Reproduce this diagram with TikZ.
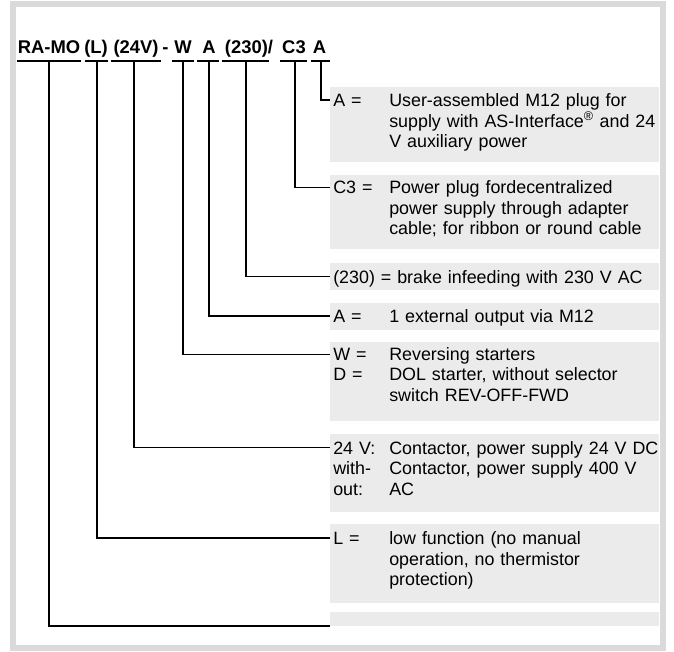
\documentclass[tikz,border=0pt]{standalone}
\usepackage{fontspec}
\setmainfont{Liberation Sans}
\usepackage{tikz}
\usetikzlibrary{fit, positioning}
\definecolor{framegray}{RGB}{218,218,218}
\definecolor{boxgray}{RGB}{235,235,235}

\begin{document}
\begin{tikzpicture}[x=0.75pt, y=-0.75pt,
    hdr/.style={font=\fontsize{13.8pt}{16pt}\selectfont\bfseries, inner sep=0pt, anchor=base},
    lbl/.style={font=\fontsize{13.4pt}{15.45pt}\selectfont, inner sep=0pt, anchor=base west, align=left, text width=40pt},
    desc/.style={lbl, text width=202pt},
    descbox/.style={fill=boxgray, inner sep=0pt},
    link/.style={line width=0.8pt}]

    \useasboundingbox (0,0) rectangle (674,652);

    % =================================================================
    % 1. OUTER FRAME
    % =================================================================
    \draw[framegray, line width=4.5pt] (13,4.5) rectangle (663,648);

    % =================================================================
    % 2. TYPE CODE ON TOP, EACH PART UNDERLINED
    % =================================================================
    \node[hdr] (hRAMO) at (49,53.3)  {RA-MO};
    \node[hdr] (hL)    at (96,53.3)  {(L)};
    \node[hdr] (hV)    at (136,53.3) {(24V)};
    \node[hdr] (hDash) at (165.5,53.3) {-};
    \node[hdr] (hW)    at (183,53.3) {W};
    \node[hdr] (hA)    at (209,53.3) {A};
    \node[hdr] (hBrk)  at (249,53.3) {(230)/};
    \node[hdr] (hC)    at (294,53.3) {C3};
    \node[hdr] (hPlug) at (319.5,53.3) {A};

    % underline of each part and the point where its line leaves it
    \foreach \xa/\xb/\xv/\n in {17/81/49/1, 85/108/97/2, 111/161/134/3, 172/194/183/4,
                               197/219/209/5, 222/269/246/6, 280/307/295/7, 311/330/321/8}
    {
        \draw[link] (\xa,61) -- (\xb,61);
        \coordinate (u\n) at (\xv,61);
    }

    % =================================================================
    % 3. GREY BOXES WITH THE MEANINGS
    % =================================================================
    \node[descbox, fit={(330,87) (659,162)}]     (b1) {};
    \node[descbox, fit={(330,175) (659,249.5)}]  (b2) {};
    \node[descbox, fit={(330,263) (659,289.5)}]  (b3) {};
    \node[descbox, fit={(330,303) (659,330)}]    (b4) {};
    \node[descbox, fit={(330,342) (659,421)}]    (b5) {};
    \node[descbox, fit={(330,434) (659,512)}]    (b6) {};
    \node[descbox, fit={(330,523.5) (659,603)}]  (b7) {};
    \node[descbox, fit={(330,612) (659,626)}]    (b8) {};

    % plug A
    \node[lbl]  (l1) at (333,106.5) {A =};
    \node[desc] (d1) at (389,106.5) {User-assembled M12 plug for\\
        supply with AS-Interface\textsuperscript{®} and 24\\ V auxiliary power};

    % C3
    \node[lbl]  (l2) at (333,193.5) {C3 =};
    \node[desc] (d2) at (389,193.5) {Power plug fordecentralized\\
        power supply through adapter\\ cable; for ribbon or round cable};

    % (230)
    \node[lbl, text width=240pt] (l3) at (333,283) {(230) = brake infeeding with 230 V AC};

    % A
    \node[lbl]  (l4) at (333,322) {A =};
    \node[desc] (d4) at (389,322) {1 external output via M12};

    % W / D
    \node[lbl]  (l5) at (333,360) {W =\\ D =};
    \node[desc] (d5) at (389,360) {Reversing starters\\
        DOL starter, without selector\\ switch REV-OFF-FWD};

    % 24 V / without
    \node[lbl]  (l6) at (333,454) {24 V:\\ with-\\ out:};
    \node[desc] (d6) at (389,454) {Contactor, power supply 24 V DC\\
        Contactor, power supply 400 V\\ AC};

    % L
    \node[lbl]  (l7) at (333,544.5) {L =};
    \node[desc] (d7) at (389,544.5) {low function (no manual\\
        operation, no thermistor\\ protection)};

    % =================================================================
    % 4. LINES FROM THE CODE PARTS TO THE BOXES
    % =================================================================
    \coordinate (e1) at (330,100);
    \coordinate (e2) at (330,187.5);
    \coordinate (e3) at (330,276.5);
    \coordinate (e4) at (330,316);
    \coordinate (e5) at (330,354.5);
    \coordinate (e6) at (330,447.5);
    \coordinate (e7) at (330,538);
    \coordinate (e8) at (330,626);

    \draw[link] (u8) |- (e1);
    \draw[link] (u7) |- (e2);
    \draw[link] (u6) |- (e3);
    \draw[link] (u5) |- (e4);
    \draw[link] (u4) |- (e5);
    \draw[link] (u3) |- (e6);
    \draw[link] (u2) |- (e7);
    \draw[link] (u1) |- (e8);

\end{tikzpicture}
\end{document}
